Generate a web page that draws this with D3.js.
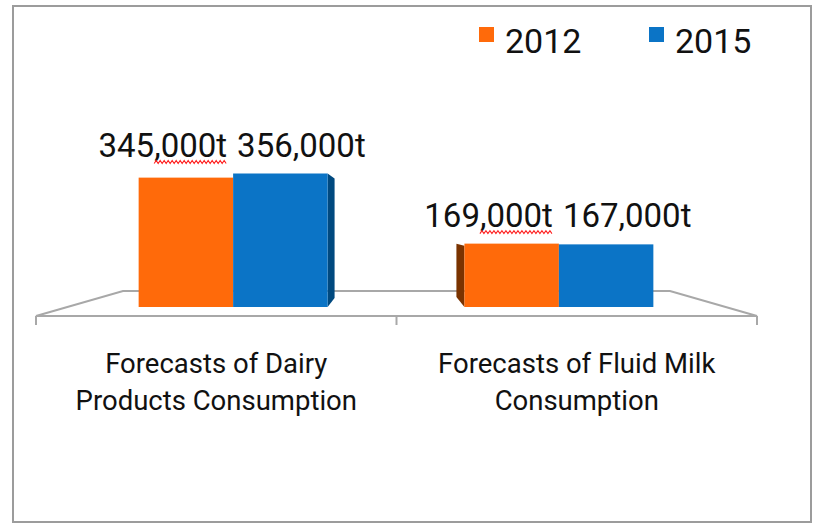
<!DOCTYPE html>
<html><head><meta charset="utf-8">
<script src="https://cdn.jsdelivr.net/npm/d3@7/dist/d3.min.js"></script>
<style>body{margin:0;background:#fff}svg{display:block}text{font-family:Roboto,"Liberation Sans",sans-serif;fill:#111}</style>
</head><body><svg id="c" width="818" height="526"></svg>
<script>
const categories = [["Forecasts of Dairy","Products Consumption"],["Forecasts of Fluid Milk","Consumption"]];
const seriesNames = ["2012","2015"];
const values2012 = [345000,169000];
const values2015 = [356000,167000];
const seriesColors = ["#FF6A0A","#0B74C6"];
const sideColors = ["#7A3300","#00497F"];

const svg = d3.select("#c");
svg.append("rect").attr("x",13).attr("y",6).attr("width",798).attr("height",516)
  .attr("fill","#fff").attr("stroke","#9c9c9c").attr("stroke-width",2);

const catKeys = categories.map((c,i)=>i);
const series = [values2012, values2015];
const xFloor = d3.scaleBand().domain(catKeys).range([36,757]);
const xBar = d3.scaleBand().domain(catKeys).range([80,712]).paddingInner(0.42).paddingOuter(0.18);
const xSeries = d3.scaleBand().domain(seriesNames).range([0,xBar.bandwidth()]);
const baseY = 307;
const y = d3.scaleLinear().domain([0,400000]).range([baseY,157]);

const floor = svg.append("g").attr("fill","none").attr("stroke","#a8a8a8").attr("stroke-width",2);
floor.append("path").attr("d",`M${xFloor.range()[0]},316 L123,291 L670,291 L${xFloor.range()[1]},316 Z`);
const tickXs = [xFloor.range()[0], ...catKeys.slice(1).map(k=>xFloor(k)), xFloor.range()[1]];
tickXs.forEach(tx=>floor.append("line").attr("x1",tx).attr("x2",tx).attr("y1",316).attr("y2",325));

const fmt = d3.format(",");
const groups = svg.selectAll("g.grp").data(catKeys).join("g").attr("class","grp");
groups.each(function(ci){
  const g = d3.select(this);
  const left = ci < catKeys.length/2;
  const bars = seriesNames.map((s,si)=>({s,si,v:series[si][ci],x:xBar(ci)+xSeries(s),w:xSeries.bandwidth()}));
  if(left){
    const b = bars[bars.length-1], xr=b.x+b.w, yt=y(b.v);
    g.append("path").attr("fill",sideColors[b.si])
     .attr("d",`M${xr},${yt} L${xr+7},${yt+5} L${xr+7},${baseY-9} L${xr},${baseY} Z`);
  } else {
    const b = bars[0], xl=b.x, yt=y(b.v);
    g.append("path").attr("fill",sideColors[b.si])
     .attr("d",`M${xl},${yt+2} L${xl-8},${yt} L${xl-8},${baseY-10} L${xl},${baseY} Z`);
  }
  g.selectAll("rect.bar").data(bars).join("rect").attr("class","bar")
   .attr("x",d=>d.x).attr("width",d=>d.w).attr("y",d=>y(d.v)).attr("height",d=>baseY-y(d.v))
   .attr("fill",d=>seriesColors[d.si]);
  const topY = d3.min(bars,d=>y(d.v));
  const ly = topY-17;
  let prevEnd = -Infinity;
  bars.forEach(d=>{
    const t = g.append("text").attr("font-size",33).attr("y",ly)
      .attr("x", d.si===0 ? d.x+d.w-6 : Math.max(d.x+2, prevEnd+10))
      .attr("text-anchor", d.si===0 ? "end":"start")
      .text(fmt(d.v)+"t");
    const node=t.node();
    prevEnd = node.getEndPositionOfChar(node.getNumberOfChars()-1).x;
    if(d.si===0){
      const s = node.getStartPositionOfChar(3).x;
      const e = prevEnd;
      let p = `M${s},${ly+7}`; let up=true;
      for(let xx=s+2; xx<=e; xx+=2){ p += ` L${xx},${ly+(up?4:7)}`; up=!up; }
      g.append("path").attr("d",p).attr("fill","none").attr("stroke","#ff2020").attr("stroke-width",1.1);
    }
  });
  const cx = xFloor(ci)+xFloor.bandwidth()/2;
  categories[ci].forEach((line,li)=>{
    g.append("text").attr("x",cx).attr("y",373+li*37).attr("text-anchor","middle")
     .attr("font-size",27.5).text(line);
  });
});

const leg = svg.append("g");
const legX = [479,649];
seriesNames.forEach((s,i)=>{
  leg.append("rect").attr("x",legX[i]).attr("y",27).attr("width",15).attr("height",15).attr("fill",seriesColors[i]);
  leg.append("text").attr("x",legX[i]+26).attr("y",53).attr("font-size",34).text(s);
});
</script></body></html>
